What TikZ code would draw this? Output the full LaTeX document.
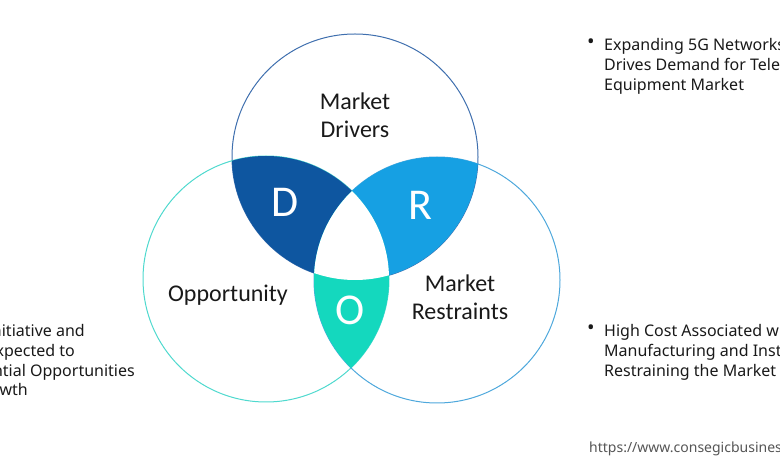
\documentclass[tikz,border=0pt]{standalone}
\usepackage{fontspec}
\setmainfont{Carlito}
\newfontfamily\sidefont{Noto Sans}
\usetikzlibrary{positioning}
\definecolor{drvfill}{HTML}{0E56A0}
\definecolor{resfill}{HTML}{16A0E3}
\definecolor{oppfill}{HTML}{14D8BE}
\definecolor{drvline}{HTML}{3F6FAE}
\definecolor{resline}{HTML}{4EA8DC}
\definecolor{oppline}{HTML}{4FD9CE}
\definecolor{urlgray}{HTML}{555555}

\begin{document}
\begin{tikzpicture}[
  x=1pt, y=-1pt,
  ring/.style={line width=1pt},
  lbl/.style={font=\fontsize{24}{28}\selectfont, align=center, inner sep=0pt, text=black!90},
  letter/.style={font=\fontsize{44}{44}\selectfont, text=white, anchor=base, inner sep=0pt},
  side/.style={font=\sidefont\fontsize{16}{20}\selectfont, align=left, inner sep=0pt, text=black!90},
  sideline/.style={font=\sidefont\fontsize{16}{20}\selectfont, anchor=base east, inner sep=0pt, text=black!90},
  bullet/.style={font=\sidefont\fontsize{20}{20}\selectfont, inner sep=0pt, text=black!90}
]
\useasboundingbox (0,0) rectangle (780,470);
\clip (0,0) rectangle (780,470);

% centres of the three rings
\coordinate (cT) at (355,157);
\coordinate (cL) at (266,279);
\coordinate (cR) at (437,280);

\draw[ring, drvline] (cT) circle[radius=123pt];
\draw[ring, oppline] (cL) circle[radius=123pt];
\draw[ring, resline] (cR) circle[radius=123pt];

% overlaps
\begin{scope}
  \clip (cT) circle[radius=123pt];
  \clip (cL) circle[radius=123pt];
  \fill[drvfill] (0,0) rectangle (780,470);
\end{scope}
\begin{scope}
  \clip (cT) circle[radius=123pt];
  \clip (cR) circle[radius=123pt];
  \fill[resfill] (0,0) rectangle (780,470);
\end{scope}
\begin{scope}
  \clip (cL) circle[radius=123pt];
  \clip (cR) circle[radius=123pt];
  \fill[oppfill] (0,0) rectangle (780,470);
\end{scope}
\begin{scope}
  \clip (cT) circle[radius=123pt];
  \clip (cL) circle[radius=123pt];
  \clip (cR) circle[radius=123pt];
  \fill[white] (0,0) rectangle (780,470);
\end{scope}

% letters
\node[letter] (dltr) at (285,216.5) {D};
\node[letter] (rltr) at (420.5,220) {R};
\node[letter] (oltr) at (350.5,325) {O};

% ring labels
\node[lbl] (drivers) at (355,115) {Market\\Drivers};
\node[lbl, anchor=base] (opport) at (228,302) {Opportunity};
\node[lbl] (restr) at (460,297) {Market\\Restraints};

% side notes
\node[bullet] (bul1) at (591,44) {•};
\node[side, anchor=north west] (drvtxt) at (604,38) {Expanding 5G Networks\\Drives Demand for Telecom\\Equipment Market};
\node[bullet] (bul2) at (591,330) {•};
\node[side, anchor=north west] (restxt) at (604,324) {High Cost Associated with\\Manufacturing and Installation\\Restraining the Market};
\node[sideline] (opp1) at (85,336.5) {Initiative and};
\node[sideline] (opp2) at (75,356.5) {Expected to};
\node[sideline] (opp3) at (135,376.5) {Potential Opportunities};
\node[sideline] (opp4) at (28,396) {Growth};

% source
\node[font=\sidefont\fontsize{14}{16}\selectfont, text=urlgray, anchor=base west, inner sep=0pt] (url) at (589,453) {https://www.consegicbusinessintelligence.com};
\end{tikzpicture}
\end{document}
